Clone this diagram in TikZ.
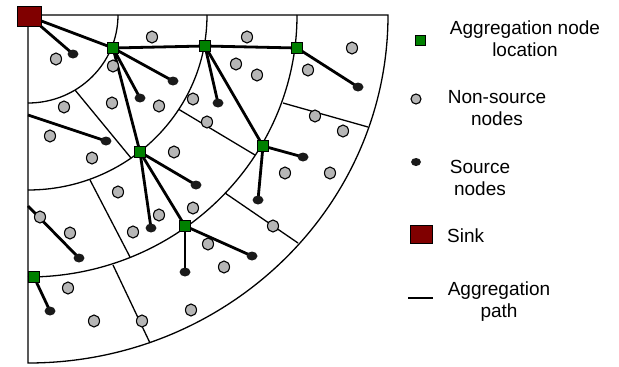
\documentclass[tikz,border=0pt]{standalone}
\usepackage{fontspec}
\setmainfont{Liberation Sans}
\usetikzlibrary{shapes.geometric,backgrounds}
\definecolor{aggG}{RGB}{0,128,0}
\definecolor{sinkR}{RGB}{128,0,0}
\definecolor{nsG}{RGB}{182,182,182}
\definecolor{srcK}{RGB}{26,26,26}
\begin{document}
\begin{tikzpicture}[x=1pt,y=-1pt,
 thinl/.style={line width=1.3pt},
 pathl/.style={line width=2.8pt},
 src/.style={ellipse, fill=srcK, minimum width=11pt, minimum height=9pt, inner sep=0pt},
 nsrc/.style={ellipse, draw, line width=1.1pt, fill=nsG, minimum width=11pt, minimum height=12pt, inner sep=0pt},
 agg/.style={rectangle, draw, line width=0.9pt, fill=aggG, minimum size=11.5pt, inner sep=0pt},
 sinkbox/.style={rectangle, draw, line width=1pt, fill=sinkR, minimum width=24pt, minimum height=20pt, inner sep=0pt},
 lbl/.style={align=center, font=\fontsize{19}{22}\selectfont, inner sep=0pt}]
\useasboundingbox (0,0) rectangle (619,367);
\coordinate (O) at (28,15);
% sink and aggregation nodes
\node[sinkbox] (sink) at (29.5,16.5) {};
\node[agg] (g1) at (113,48) {};
\node[agg] (g2) at (205,46) {};
\node[agg] (g3) at (297,48) {};
\node[agg] (g4) at (140,152) {};
\node[agg] (g5) at (263,146) {};
\node[agg] (g6) at (185,226) {};
\node[agg] (g7) at (34,277) {};
% source nodes
\node[src] (b1) at (73,54) {};
\node[src] (b2) at (173,81) {};
\node[src] (b3) at (140,98) {};
\node[src] (b4) at (218,103) {};
\node[src] (b5) at (358,87) {};
\node[src] (b6) at (106,141) {};
\node[src] (b7) at (196,185) {};
\node[src] (b8) at (151,228) {};
\node[src] (b9) at (303,157) {};
\node[src] (b10) at (258,200) {};
\node[src] (b11) at (252,256) {};
\node[src] (b12) at (185,272) {};
\node[src] (b13) at (79,258) {};
\node[src] (b14) at (50,311) {};
% non-source nodes
\foreach \p [count=\i] in {(56,59),(152,37),(247,37),(352,48),(113,66),(64,107),(112,103),(159,106),(193,99),(207,122),(236,64),(257,75),(308,70),(315,116),(343,131),(50,136),(92,158),(174,152),(285,173),(330,173),(118,192),(159,215),(133,232),(193,208),(40,217),(70,233),(273,226),(208,244),(224,267),(68,288),(94,321),(142,321),(191,310)}
  \node[nsrc] (n\i) at \p {};
\coordinate (L1) at (28,115);
\coordinate (L2) at (28,206);
\begin{scope}[on background layer]
  \draw[thinl] (O) -- (388,15) arc[start angle=0,end angle=-90,x radius=360pt,y radius=348pt] -- cycle;
  \foreach \rx/\ry in {90/88,179/175,269/262}
    \draw[thinl] (O) ++(\rx,0) arc[start angle=0,end angle=-90,x radius=\rx pt,y radius=\ry pt];
  \draw[thinl] (75,90) -- (131,158);
  \draw[thinl] (179,109.5) -- (255,155);
  \draw[thinl] (90,180) -- (130,257);
  \draw[thinl] (283,103) -- (368,127);
  \draw[thinl] (225,193) -- (298,243);
  \draw[thinl] (113,265) -- (150,343);
  \draw[pathl] (sink.center) -- (b1.center);
  \draw[pathl] (sink.center) -- (g1.center) -- (g2.center) -- (g3.center);
  \draw[pathl] (g1.center) -- (b2.center);
  \draw[pathl] (g1.center) -- (b3.center);
  \draw[pathl] (g1.center) -- (g4.center);
  \draw[pathl] (g2.center) -- (b4.center);
  \draw[pathl] (g2.center) -- (g5.center);
  \draw[pathl] (g3.center) -- (b5.center);
  \draw[pathl] (L1) -- (b6.center);
  \draw[pathl] (g4.center) -- (b7.center);
  \draw[pathl] (g4.center) -- (b8.center);
  \draw[pathl] (g4.center) -- (g6.center);
  \draw[pathl] (g5.center) -- (b9.center);
  \draw[pathl] (g5.center) -- (b10.center);
  \draw[pathl] (g6.center) -- (b11.center);
  \draw[pathl] (g6.center) -- (b12.center);
  \draw[pathl] (L2) -- (b13.center);
  \draw[pathl] (g7.center) -- (b14.center);
\end{scope}
% legend
\node[agg, minimum size=10pt] (lg) at (420,40) {};
\node[lbl] (lgt) at (525,39) {Aggregation node\\location};
\node[nsrc, minimum width=10pt, minimum height=10pt] (ln) at (416,99) {};
\node[lbl] (lnt) at (497,108) {Non-source\\nodes};
\node[src, minimum width=10pt, minimum height=8pt] (ls) at (416,162) {};
\node[lbl] (lst) at (480,178) {Source\\nodes};
\node[sinkbox, minimum width=22pt, minimum height=18pt] (lk) at (421,234) {};
\node[lbl, anchor=west] (lkt) at (447,236) {Sink};
\coordinate (lpa) at (408,298);
\coordinate (lpb) at (433,298);
\draw[pathl] (lpa) -- (lpb);
\node[lbl] (lpt) at (499,302) {Aggregation\\path};
\end{tikzpicture}
\end{document}
